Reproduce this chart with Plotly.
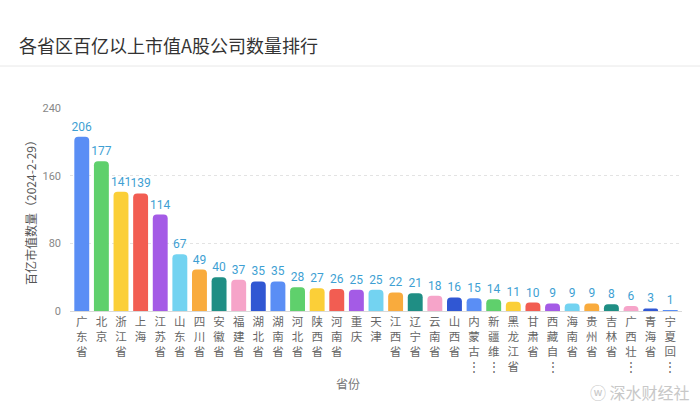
import plotly.graph_objects as go

provinces = ["广东省", "北京", "浙江省", "上海", "江苏省", "山东省", "四川省", "安徽省", "福建省", "湖北省",
             "湖南省", "河北省", "陕西省", "河南省", "重庆", "天津", "江西省", "辽宁省", "云南省", "山西省",
             "内蒙古⋮", "新疆维⋮", "黑龙江省", "甘肃省", "西藏自⋮", "海南省", "贵州省", "吉林省", "广西壮⋮", "青海省", "宁夏回⋮"]
counts = [206, 177, 141, 139, 114, 67, 49, 40, 37, 35,
          35, 28, 27, 26, 25, 25, 22, 21, 18, 16,
          15, 14, 11, 10, 9, 9, 9, 8, 6, 3, 1]
palette = ["#5a8ef5", "#5fd06c", "#fbcf38", "#f25d52", "#a45be6",
           "#73d3f1", "#f9ab3d", "#1f8e84", "#f6a4c9", "#3057d3"]
y_ticks = [0, 80, 160, 240]

colors = [palette[i % len(palette)] for i in range(len(provinces))]
ticktext = ["<br>".join(list(p)) for p in provinces]

fig = go.Figure(go.Bar(
    x=list(range(len(provinces))), y=counts,
    marker=dict(color=colors, cornerradius=4, line=dict(width=0)),
    text=[str(v) for v in counts], textposition="outside", textangle=0,
    constraintext="none",
    textfont=dict(color="#3e9fd3", size=12, family="Roboto, Noto Sans CJK SC"),
    cliponaxis=False, hoverinfo="skip",
))

fig.update_layout(
    width=700, height=405,
    margin=dict(l=70, r=18, t=108, b=94),
    paper_bgcolor="white", plot_bgcolor="white",
    bargap=0.24, showlegend=False,
    font=dict(family="Noto Sans CJK SC, Roboto", color="#666"),
    xaxis=dict(
        tickmode="array", tickvals=list(range(len(provinces))), ticktext=ticktext,
        tickfont=dict(size=11.5, color="#666"), ticks="", automargin=False,
        range=[-0.6, len(provinces) - 0.4],
        showline=True, linecolor="#d9d9d9", linewidth=1, showgrid=False,
    ),
    yaxis=dict(
        range=[0, 240], tickvals=y_ticks, automargin=False,
        tickfont=dict(size=11, color="#888", family="Roboto"),
        showgrid=True, gridcolor="#e3e3e3", griddash="dot", gridwidth=1,
        zeroline=False, ticks="", ticklabelstandoff=8,
    ),
)

# y-axis title
fig.add_annotation(text="百亿市值数量（2024-2-29）", xref="paper", yref="paper",
                   x=(30 - 70) / 612, y=(311 - 210) / 203, textangle=-90,
                   xanchor="center", yanchor="middle", showarrow=False,
                   font=dict(size=12, color="#555"))
# chart title
fig.add_annotation(text="各省区百亿以上市值A股公司数量排行", xref="paper", yref="paper",
                   x=-0.086, y=(311 - 45) / 203, xanchor="left", yanchor="middle",
                   showarrow=False, font=dict(size=18, color="#333"))
# separator line under title
fig.add_shape(type="line", xref="paper", yref="paper", x0=-0.12, x1=1.04,
              y0=(311 - 66) / 203, y1=(311 - 66) / 203, line=dict(color="#e8e8e8", width=1))
# x-axis title
fig.add_annotation(text="省份", xref="paper", yref="paper", x=(348 - 70) / 612, y=(311 - 383) / 203,
                   showarrow=False, font=dict(size=12, color="#777"), yanchor="middle")
# watermark
fig.add_annotation(text="ⓦ 深水财经社", xref="paper", yref="paper", x=(700 - 8 - 70) / 612, y=(311 - 392) / 203,
                   xanchor="right", yanchor="middle", showarrow=False,
                   font=dict(size=16, color="#c8c8c8"))

fig.write_html("out.html")
